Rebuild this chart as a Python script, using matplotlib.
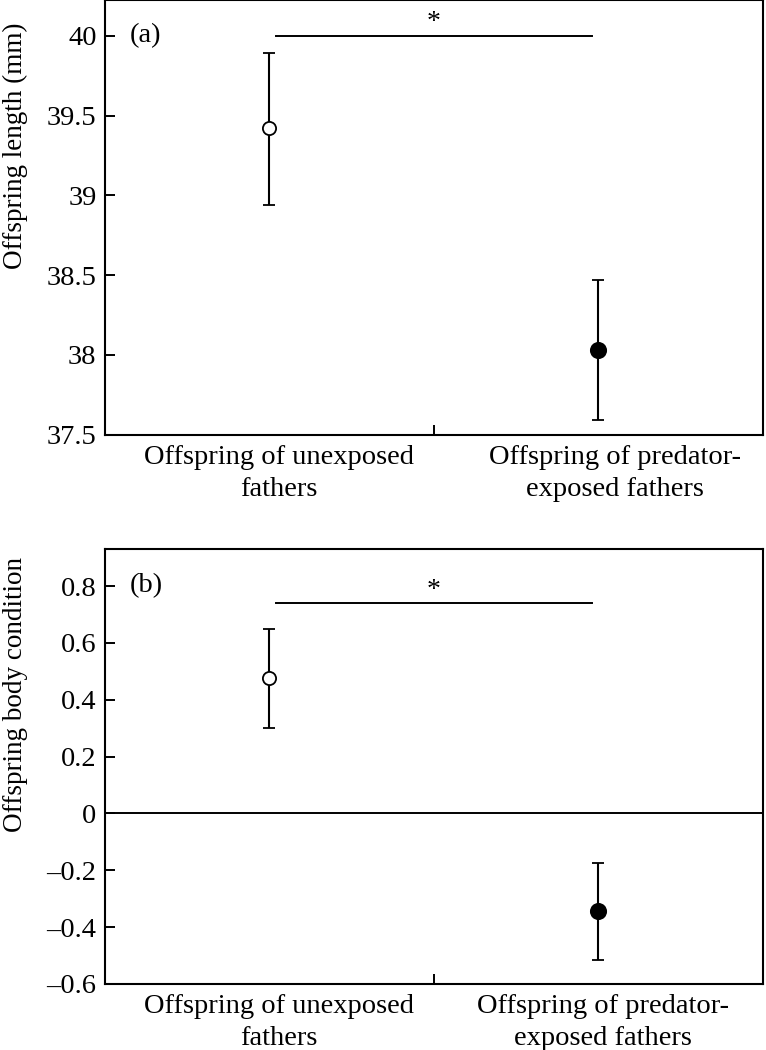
import matplotlib.pyplot as plt

plt.rcParams['font.family'] = ['Liberation Serif', 'DejaVu Serif']

# Data
groups = ['Offspring of unexposed\nfathers', 'Offspring of predator-\nexposed fathers']
length_mean = [39.42, 38.03]
length_low = [38.94, 37.59]
length_high = [39.89, 38.47]
cond_mean = [0.475, -0.345]
cond_low = [0.30, -0.515]
cond_high = [0.65, -0.175]
length_ticks = [37.5, 38, 38.5, 39, 39.5, 40]
cond_ticks = [-0.6, -0.4, -0.2, 0, 0.2, 0.4, 0.6, 0.8]
marker_faces = ['white', 'black']
marker_sizes = [9.5, 11]

fig = plt.figure(figsize=(7.66, 10.5), dpi=100)
ax1 = fig.add_axes([0.137, 0.586, 0.859, 0.414])
ax2 = fig.add_axes([0.137, 0.063, 0.859, 0.414])

xpos = [0.5, 1.5]


def panel(ax, mean, low, high, ticks, ylim, ylabel, tag, sig_y, star_y,
          tick_fmt, label_x):
    for i in range(2):
        yerr = [[mean[i] - low[i]], [high[i] - mean[i]]]
        ax.errorbar([xpos[i]], [mean[i]], yerr=yerr, fmt='o', color='black',
                    mfc=marker_faces[i], mec='black', ms=marker_sizes[i],
                    mew=1.3, elinewidth=1.5, capsize=4, capthick=1.5)
    ax.set_xlim(0, 2)
    ax.set_ylim(*ylim)
    ax.set_yticks(ticks)
    ax.set_yticklabels([tick_fmt(t) for t in ticks])
    ax.set_xticks([1])
    ax.set_xticklabels([''])
    for i in range(2):
        ax.text(label_x[i], -0.024, groups[i], transform=ax.get_xaxis_transform(),
                ha='center', va='top', fontsize=20.5, linespacing=1.35)
    ax.tick_params(direction='in', length=7, width=1.4, labelsize=20.5, pad=6)
    for s in ax.spines.values():
        s.set_linewidth(1.5)
    ax.set_ylabel(ylabel, fontsize=19.5)
    ax.yaxis.set_label_coords(-0.117, 0.665)
    ax.text(0.038, ticks[-1], tag, transform=ax.get_yaxis_transform(),
            ha='left', va='center', fontsize=20.5)
    ax.plot([0.52, 1.48], [sig_y, sig_y], color='black', lw=1.4)
    ax.text(1.0, star_y, '*', ha='center', va='center', fontsize=20)


panel(ax1, length_mean, length_low, length_high, length_ticks, (37.5, 40.225),
      'Offspring length (mm)', '(a)', 40.0, 40.085,
      lambda t: f'{t:g}', [0.53, 1.55])
panel(ax2, cond_mean, cond_low, cond_high, cond_ticks, (-0.6, 0.93),
      'Offspring body condition', '(b)', 0.74, 0.785,
      lambda t: '0' if t == 0 else f'{t:.1f}'.replace('-', '\u2013'),
      [0.53, 1.515])
ax2.axhline(0, color='black', lw=1.4)

fig.savefig('out.png', dpi=100)
